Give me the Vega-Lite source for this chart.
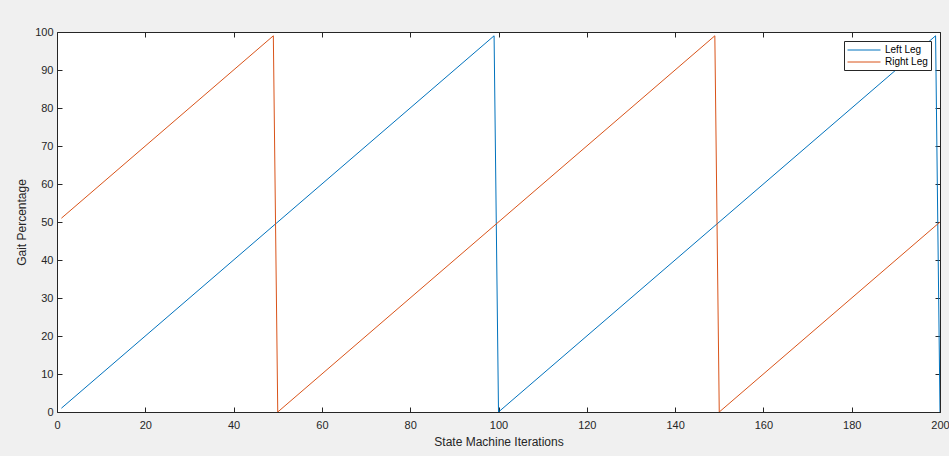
{
  "$schema": "https://vega.github.io/schema/vega-lite/v6.json",
  "width": 883,
  "height": 380,
  "autosize": {"type": "none"},
  "padding": {"left": 57, "top": 32, "right": 9, "bottom": 44},
  "background": "#f0f0f0",
  "config": {
    "view": {"fill": "white", "stroke": null},
    "font": "Liberation Sans",
    "axis": {
      "grid": false,
      "domainColor": "#262626",
      "tickColor": "#262626",
      "tickSize": -5,
      "labelFlush": false,
      "labelColor": "#262626",
      "labelFontSize": 11,
      "titleColor": "#262626",
      "titleFontSize": 12,
      "titleFontWeight": "normal"
    }
  },
  "data": {
    "values": [
      {"iter": 1, "gait": 1, "leg": "Left Leg"},
      {"iter": 99, "gait": 99, "leg": "Left Leg"},
      {"iter": 100, "gait": 0, "leg": "Left Leg"},
      {"iter": 199, "gait": 99, "leg": "Left Leg"},
      {"iter": 200, "gait": 0, "leg": "Left Leg"},
      {"iter": 1, "gait": 51, "leg": "Right Leg"},
      {"iter": 49, "gait": 99, "leg": "Right Leg"},
      {"iter": 50, "gait": 0, "leg": "Right Leg"},
      {"iter": 149, "gait": 99, "leg": "Right Leg"},
      {"iter": 150, "gait": 0, "leg": "Right Leg"},
      {"iter": 200, "gait": 50, "leg": "Right Leg"}
    ]
  },
  "resolve": {"axis": {"x": "independent", "y": "independent"}},
  "layer": [
    {
      "mark": {"type": "line", "strokeWidth": 1, "clip": true},
      "encoding": {
        "x": {
          "field": "iter", "type": "quantitative",
          "scale": {"domain": [0, 200], "nice": false},
          "axis": {"title": "State Machine Iterations", "values": [0,20,40,60,80,100,120,140,160,180,200], "labelPadding": 12, "titlePadding": 6}
        },
        "y": {
          "field": "gait", "type": "quantitative",
          "scale": {"domain": [0, 100], "nice": false},
          "axis": {"title": "Gait Percentage", "values": [0,10,20,30,40,50,60,70,80,90,100], "labelPadding": 9, "titlePadding": 6}
        },
        "color": {
          "field": "leg", "type": "nominal",
          "scale": {"domain": ["Left Leg", "Right Leg"], "range": ["#0072BD", "#D95319"]},
          "legend": {
            "title": null,
            "orient": "top-right",
            "offset": 9,
            "symbolType": "M-3,0H3",
            "symbolSize": 121,
            "symbolOffset": 11,
            "symbolStrokeWidth": 1,
            "labelOffset": 15,
            "labelFontSize": 10,
            "labelColor": "#000000",
            "strokeColor": "#262626",
            "fillColor": "white",
            "padding": 3,
            "rowPadding": 1,
            "cornerRadius": 0
          }
        }
      }
    },
    {
      "mark": {"type": "line", "opacity": 0},
      "encoding": {
        "x": {
          "field": "iter", "type": "quantitative",
          "axis": {"orient": "top", "title": null, "labels": false, "values": [0,20,40,60,80,100,120,140,160,180,200]}
        },
        "y": {
          "field": "gait", "type": "quantitative",
          "axis": {"orient": "right", "title": null, "labels": false, "values": [0,10,20,30,40,50,60,70,80,90,100]}
        },
        "detail": {"field": "leg"}
      }
    }
  ]
}
